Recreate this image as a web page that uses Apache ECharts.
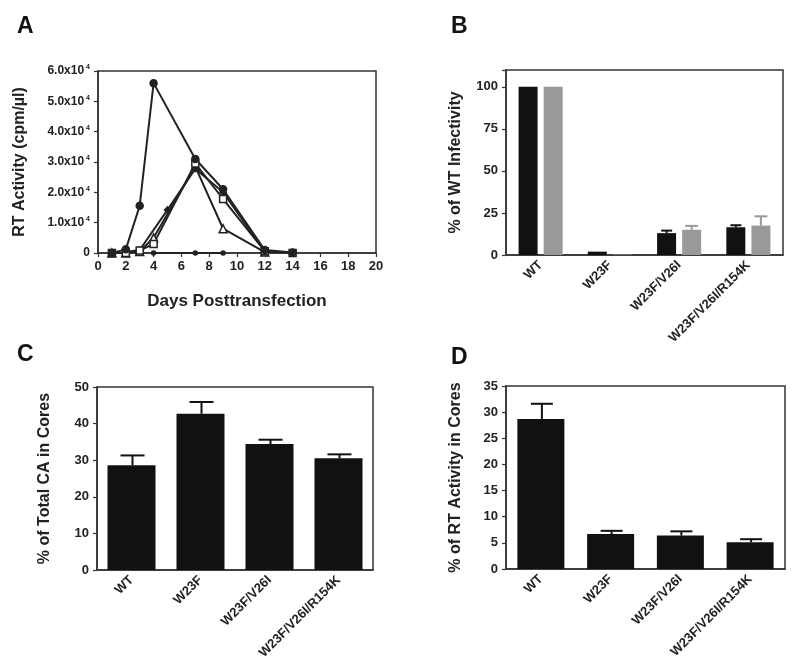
<!DOCTYPE html>
<html><head><meta charset="utf-8">
<script src="https://cdn.jsdelivr.net/npm/echarts@6/dist/echarts.min.js"></script>
<style>html,body{margin:0;padding:0;background:#fff}#c{width:800px;height:666px}</style>
</head><body><div id="c"></div>
<script>
// ---- Panel A data: RT activity (cpm/µl) vs day ----
const aWT = [[1,0],[2,1200],[3,15600],[4,56000],[7,31000],[9,21000],[12,1000],[14,200]];
const aSquare = [[1,0],[2,0],[3,800],[4,3000],[7,29500],[9,17800],[12,600],[14,0]];
const aTriangle = [[1,0],[2,0],[3,500],[4,5000],[7,28500],[9,8000],[12,300]];
const aDiamond = [[2,300],[3,1000],[5,14200],[7,27800],[9,20000],[12,600]];
const aZero = [[4,0],[7,0],[9,0]];
const aXTicks = [0,2,4,6,8,10,12,14,16,18,20];

// ---- Panel B: % of WT infectivity ----
const catsB = ['WT','W23F','W23F/V26I','W23F/V26I/R154K'];
const bBlack = [100, 2, 13, 16.5];
const bBlackErr = [0, 0, 1.5, 1.2];
const bGrey = [100, 0.3, 15, 17.5];
const bGreyErr = [0, 0, 2.3, 5.5];

// ---- Panel C: % of total CA in cores ----
const catsC = ['WT','W23F','W23F/V26I','W23F/V26I/R154K'];
const cVals = [28.6, 42.7, 34.4, 30.5];
const cErr = [2.7, 3.2, 1.2, 1.1];

// ---- Panel D: % of RT activity in cores ----
const catsD = ['WT','W23F','W23F/V26I','W23F/V26I/R154K'];
const dVals = [28.7, 6.7, 6.4, 5.1];
const dErr = [2.9, 0.6, 0.8, 0.6];

const FONT = 'Liberation Sans, Arial, Helvetica, sans-serif';
const TXT = '#222';
const chart = echarts.init(document.getElementById('c'));

function axisBase(){
  return {
    axisLine:{show:true,onZero:false,lineStyle:{color:'#333',width:1.5}},
    axisTick:{show:true,length:4,lineStyle:{color:'#333',width:1.2}},
    splitLine:{show:false},
    axisLabel:{color:TXT,fontFamily:FONT,fontWeight:'bold',fontSize:11}
  };
}
function catAxis(idx, cats){
  const b = axisBase();
  return Object.assign(b,{
    type:'category', gridIndex:idx, data:cats,
    axisTick:{show:false},
    axisLabel:Object.assign(b.axisLabel,{rotate:45,margin:8,interval:0,fontSize:13})
  });
}
function valAxis(idx, max, interval, name, nameGap){
  const b = axisBase();
  return Object.assign(b,{
    type:'value', gridIndex:idx, min:0, max:max, interval:interval,
    name:name, nameLocation:'middle', nameGap:nameGap, nameRotate:90,
    nameTextStyle:{color:TXT,fontFamily:FONT,fontWeight:'bold',fontSize:16},
    axisLabel:Object.assign(b.axisLabel,{fontSize:13,formatter:function(v){return v>max-1e-9 && v%interval!==0?'':String(v);}})
  });
}

function errSeries(xi, yi, vals, errs, offset, cap, color){
  return {
    type:'custom', xAxisIndex:xi, yAxisIndex:yi, z:1,
    data: vals.map((v,i)=>[i, v, errs[i]]),
    renderItem:function(params, api){
      const e = api.value(2);
      if(!e) return null;
      const p0 = api.coord([api.value(0), api.value(1)]);
      const p1 = api.coord([api.value(0), api.value(1)+e]);
      const x = p0[0]+offset;
      const st = {stroke:color,lineWidth:2};
      return {type:'group',children:[
        {type:'line',shape:{x1:x,y1:p0[1],x2:x,y2:p1[1]},style:st},
        {type:'line',shape:{x1:x-cap/2,y1:p1[1],x2:x+cap/2,y2:p1[1]},style:st}
      ]};
    }
  };
}

const lineStyleA = {color:'#222',width:2};
function lineA(data, symbol, size, filled){
  return {
    type:'line', xAxisIndex:0, yAxisIndex:0, data:data, symbol:symbol, symbolSize:size,
    showSymbol:true, lineStyle:lineStyleA,
    itemStyle:{color: filled ? '#222' : '#fff', borderColor:'#222', borderWidth:1.5},
    emphasis:{disabled:true}, animation:false
  };
}

const yA = axisBase();
Object.assign(yA,{
  type:'value', gridIndex:0, min:0, max:60000, interval:10000,
  name:'RT Activity (cpm/\u00b5l)', nameLocation:'middle', nameGap:70, nameRotate:90,
  nameTextStyle:{color:TXT,fontFamily:FONT,fontWeight:'bold',fontSize:16},
  axisLabel:Object.assign(yA.axisLabel,{
    fontSize:12,
    formatter:function(v){ if(v===0) return '0'; return '{a|'+(v/10000).toFixed(1)+'x10}{b|4}'; },
    rich:{
      a:{fontFamily:FONT,fontWeight:'bold',fontSize:12,color:TXT,lineHeight:14},
      b:{fontFamily:FONT,fontWeight:'bold',fontSize:7,color:TXT,verticalAlign:'top',lineHeight:14,padding:[0,0,0,2]}
    }
  })
});
const xA = axisBase();
Object.assign(xA,{
  type:'value', gridIndex:0, min:0, max:20, interval:2,
  name:'Days Posttransfection', nameLocation:'middle', nameGap:40,
  nameTextStyle:{color:TXT,fontFamily:FONT,fontWeight:'bold',fontSize:17},
  axisLabel:Object.assign(xA.axisLabel,{fontSize:13,margin:7})
});

const gridStyle = {show:true,borderColor:'#333',borderWidth:1.5,backgroundColor:'transparent'};

const option = {
  animation:false,
  textStyle:{fontFamily:FONT},
  title:[
    {text:'A',left:12,top:10,textStyle:{fontSize:23,fontWeight:'bold',color:'#111',fontFamily:FONT}},
    {text:'B',left:446,top:10,textStyle:{fontSize:23,fontWeight:'bold',color:'#111',fontFamily:FONT}},
    {text:'C',left:12,top:338,textStyle:{fontSize:23,fontWeight:'bold',color:'#111',fontFamily:FONT}},
    {text:'D',left:446,top:341,textStyle:{fontSize:23,fontWeight:'bold',color:'#111',fontFamily:FONT}}
  ],
  grid:[
    Object.assign({left:98,top:71,width:278,height:182},gridStyle),
    Object.assign({left:506,top:70,width:277,height:185},gridStyle),
    Object.assign({left:97,top:387,width:276,height:183},gridStyle),
    Object.assign({left:506,top:386,width:279,height:183},gridStyle)
  ],
  xAxis:[ xA, catAxis(1,catsB), catAxis(2,catsC), catAxis(3,catsD) ],
  yAxis:[ yA,
    valAxis(1,110,25,'% of WT Infectivity',42),
    valAxis(2,50,10,'% of Total CA in Cores',44),
    valAxis(3,35,5,'% of RT Activity in Cores',42)
  ],
  series:[
    lineA(aZero,'circle',4,true),
    lineA(aTriangle,'triangle',8,false),
    lineA(aDiamond,'diamond',6,true),
    lineA(aSquare,'rect',7,false),
    lineA(aWT,'circle',7,true),
    {type:'bar',xAxisIndex:1,yAxisIndex:1,data:bBlack,barWidth:19,barGap:'32%',itemStyle:{color:'#111'},z:2},
    {type:'bar',xAxisIndex:1,yAxisIndex:1,data:bGrey,barWidth:19,itemStyle:{color:'#999'},z:2},
    errSeries(1,1,bBlack,bBlackErr,-12.5,11,'#111'),
    errSeries(1,1,bGrey,bGreyErr,12.5,13,'#999'),
    {type:'bar',xAxisIndex:2,yAxisIndex:2,data:cVals,barWidth:48,itemStyle:{color:'#111'},z:2},
    errSeries(2,2,cVals,cErr,1,24,'#111'),
    {type:'bar',xAxisIndex:3,yAxisIndex:3,data:dVals,barWidth:47,itemStyle:{color:'#111'},z:2},
    errSeries(3,3,dVals,dErr,1,22,'#111')
  ]
};
chart.setOption(option);
</script></body></html>
